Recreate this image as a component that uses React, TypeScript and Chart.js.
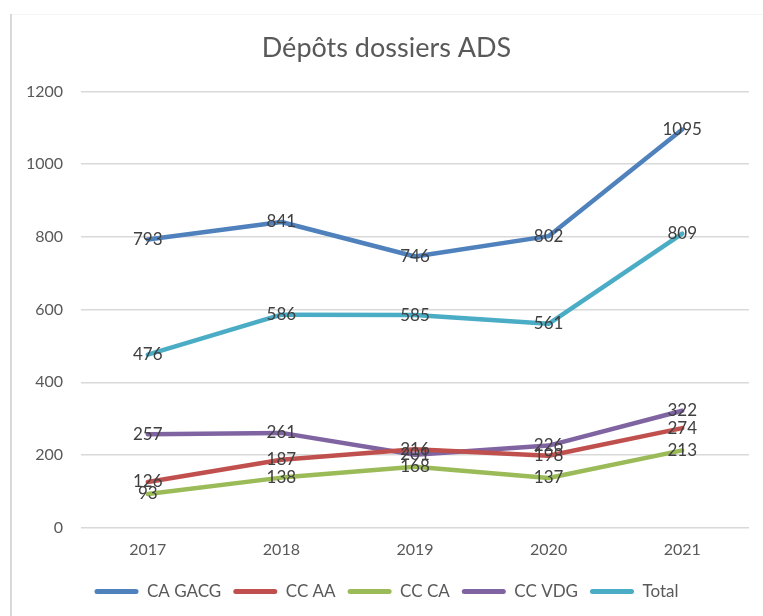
import React, { useEffect, useRef } from "react";
import { Chart, registerables } from "chart.js";

Chart.register(...registerables);

const categories = ["2017", "2018", "2019", "2020", "2021"];
const seriesNames = ["CA GACG", "CC AA", "CC CA", "CC VDG", "Total"];
const caGacg = [793, 841, 746, 802, 1095];
const ccAa = [126, 187, 216, 198, 274];
const ccCa = [93, 138, 168, 137, 213];
const ccVdg = [257, 261, 201, 226, 322];
const total = [476, 586, 585, 561, 809];
const seriesColors = ["#4f81bd", "#c0504d", "#9bbb59", "#8064a2", "#4bacc6"];
const yTicks = [0, 200, 400, 600, 800, 1000, 1200];

const FONT = "Lato, 'Liberation Sans', sans-serif";

const dataLabels = {
  id: "dataLabels",
  afterDatasetsDraw(chart: any) {
    const ctx = chart.ctx;
    ctx.save();
    ctx.font = `17px ${FONT}`;
    ctx.fillStyle = "#404040";
    ctx.textAlign = "center";
    ctx.textBaseline = "middle";
    chart.data.datasets.forEach((ds: any, i: number) => {
      const meta = chart.getDatasetMeta(i);
      meta.data.forEach((pt: any, j: number) => {
        ctx.fillText(String(ds.data[j]), pt.x, pt.y);
      });
    });
    ctx.restore();
  },
};

export default function App() {
  const ref = useRef<HTMLCanvasElement>(null);
  useEffect(() => {
    const all = [caGacg, ccAa, ccCa, ccVdg, total];
    const chart = new Chart(ref.current!, {
      type: "line",
      data: {
        labels: categories,
        datasets: all.map((d, i) => ({
          label: seriesNames[i],
          data: d,
          borderColor: seriesColors[i],
          backgroundColor: seriesColors[i],
          borderWidth: 4.5,
          pointRadius: 0,
          tension: 0,
          borderCapStyle: "round",
          borderJoinStyle: "round",
        })),
      },
      options: {
        animation: false,
        responsive: false,
        maintainAspectRatio: false,
        layout: { padding: { left: 24, right: 14, top: 0, bottom: 6 } },
        plugins: {
          tooltip: { enabled: false },
          title: {
            display: true,
            text: "Dépôts dossiers ADS",
            color: "#595959",
            font: { family: FONT, size: 27, weight: "normal" },
            padding: { top: 32, bottom: 27 },
          },
          legend: {
            position: "bottom",
            labels: {
              font: { family: FONT, size: 17 },
              color: "#595959",
              boxWidth: 44,
              boxHeight: 5,
              padding: 12,
              useBorderRadius: true,
              borderRadius: 2.5,
              generateLabels: (c: any) =>
                c.data.datasets.map((ds: any, i: number) => ({
                  text: ds.label,
                  fillStyle: ds.borderColor,
                  strokeStyle: ds.borderColor,
                  lineWidth: 0,
                  hidden: false,
                  datasetIndex: i,
                  fontColor: "#595959",
                  borderRadius: 2.5,
                })),
            },
          },
        },
        scales: {
          x: {
            offset: true,
            grid: { display: false, drawTicks: false },
            border: { display: false },
            ticks: {
              color: "#595959",
              font: { family: FONT, size: 16 },
              padding: 12,
            },
          },
          y: {
            min: 0,
            max: 1200,
            afterFit: (s: any) => {
              s.width = 57;
            },
            afterBuildTicks: (s: any) => {
              s.ticks = yTicks.map((v) => ({ value: v }));
            },
            grid: { color: "#d9d9d9", lineWidth: 1.5, drawTicks: false },
            border: { display: false },
            ticks: {
              color: "#595959",
              font: { family: FONT, size: 16 },
              padding: 18,
              callback: (v: any) => String(v),
            },
          },
        },
      },
      plugins: [dataLabels],
    } as any);
    return () => chart.destroy();
  }, []);

  return (
    <div style={{ position: "absolute", left: 0, top: 0, width: 763, height: 616, background: "#fff" }}>
      <div style={{ position: "absolute", left: 10, top: 14, width: 2, height: 602, background: "#d9d9d9" }} />
      <div style={{ position: "absolute", left: 12, top: 14, width: 751, height: 1, background: "#f5f5f5" }} />
      <canvas ref={ref} width={763} height={616} style={{ position: "absolute", left: 0, top: 0 }} />
    </div>
  );
}
